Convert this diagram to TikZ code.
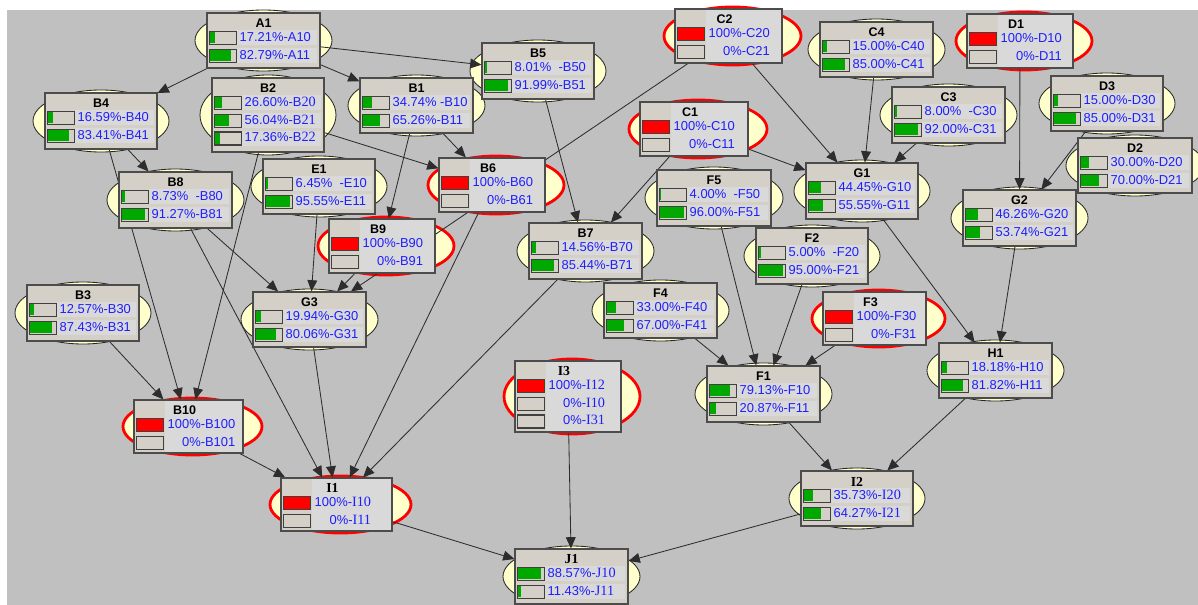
\documentclass[tikz,border=0pt]{standalone}
\usepackage{fontspec}
\setmainfont{Liberation Sans}
\newfontfamily\serifpart[Scale=1.1]{Liberation Serif}
\usetikzlibrary{arrows.meta,fit,calc}

\definecolor{paper}{RGB}{192,192,192}
\definecolor{boxgray}{RGB}{212,208,200}
\definecolor{txtgray}{RGB}{217,217,217}
\definecolor{eggyellow}{RGB}{255,255,204}
\definecolor{evidred}{RGB}{255,0,0}
\definecolor{bargreen}{RGB}{0,168,0}
\definecolor{valblue}{RGB}{30,30,255}
\definecolor{linkgray}{RGB}{45,45,45}

\pgfdeclarelayer{paperlayer}
\pgfdeclarelayer{eggs}
\pgfdeclarelayer{links}
\pgfsetlayers{paperlayer,eggs,links,main}

\newcommand{\sr}[1]{{\serifpart #1}}

% node box with its egg behind it (box corners in px)
\newcommand{\bnnode}[6]{%
  \node[bnbox, fit={(#2,#3) (#4,#5)}] (#1) {};
  \pgfmathsetmacro\eggx{(#4-#2)/2+12}
  \pgfmathsetmacro\eggy{(#5-#3)/2+3}
  \begin{pgfonlayer}{eggs}
    \path[bnegg] (#1.center) ellipse [x radius=\eggx, y radius=\eggy];
  \end{pgfonlayer}
  \node[bntitle] at ($(#1.north)+(0,11)$) {#6};
}
% evidence node: red egg, light text column
\newcommand{\bnevnode}[6]{%
  \node[bnbox, fit={(#2,#3) (#4,#5)}] (#1) {};
  \pgfmathsetmacro\eggx{(#4-#2)/2+15}
  \pgfmathsetmacro\eggy{(#5-#3)/2+2}
  \begin{pgfonlayer}{eggs}
    \path[bnredegg] ($(#1.center)+(4,0)$) ellipse [x radius=\eggx, y radius=\eggy];
  \end{pgfonlayer}
  \fill[txtgray] ($(#1.north west)+(32,1.5)$) rectangle ($(#1.south east)+(-1.5,-1.5)$);
  \node[bntitle] at ($(#1.north)+(-4,11)$) {#6};
}
% one state row: node, row, share, label
\newcommand{\bnrow}[4]{%
  \pgfmathsetmacro\rowy{25.5+(#2-1)*17.8}
  \fill[txtgray] ($(#1.north west)+(31,\rowy-7.5)$) rectangle ($(#1.north east)+(-4,\rowy+7.5)$);
  \draw[bnbar] ($(#1.north west)+(3,\rowy-6.5)$) rectangle ++(27,13);
  \fill[bargreen] ($(#1.north west)+(4,\rowy-5.5)$) rectangle ++(#3*25,11);
  \node[bnval, anchor=west] at ($(#1.north west)+(33,\rowy)$) {#4};
}
% evidence rows
\newcommand{\bnhit}[2]{%
  \draw[bnbar, fill=evidred] ($(#1.north west)+(3,19)$) rectangle ++(27,13);
  \node[bnval, anchor=west] (#1v) at ($(#1.north west)+(34,25.5)$) {#2};
}
\newcommand{\bnmiss}[3]{%
  \pgfmathsetmacro\rowy{25.5+(#2-1)*17.8}
  \draw[bnbar] ($(#1.north west)+(3,\rowy-6.5)$) rectangle ++(27,13);
  \node[bnval, anchor=east] at ($(#1v.east)+(0,\rowy-25.5)$) {#3};
}

\begin{document}
\begin{tikzpicture}[x=0.025cm, y=-0.025cm]
\tikzset{
  bnbox/.style={rectangle, draw=black!70, fill=boxgray, line width=0.8pt, inner sep=0pt},
  bnegg/.style={draw=black!85, fill=eggyellow, line width=0.6pt},
  bnredegg/.style={draw=evidred, fill=eggyellow, line width=2pt},
  bnbar/.style={draw=black!75, fill=boxgray, line width=0.8pt},
  bntitle/.style={font=\bfseries\fontsize{8.9}{10}\selectfont, inner sep=0pt},
  bnval/.style={text=valblue, font=\fontsize{9.2}{11}\selectfont, inner sep=0pt,
    text height=6.6pt, text depth=1.8pt},
  link/.style={draw=linkgray, line width=0.6pt, -{Triangle[length=8pt,width=7pt]}}
}
\useasboundingbox (0,0) rectangle (1198,605);
\begin{pgfonlayer}{paperlayer}
  \fill[white] (0,0) rectangle (1198,605);
  \fill[paper] (7,10) rectangle (1198,605);
\end{pgfonlayer}

% nodes
\bnnode{A1}{207}{13}{320}{68}{A1}
\bnrow{A1}{1}{.1721}{17.21\%-A10}
\bnrow{A1}{2}{.8279}{82.79\%-A11}

\bnnode{B4}{45}{93}{157}{149}{B4}
\bnrow{B4}{1}{.1659}{16.59\%-B40}
\bnrow{B4}{2}{.8341}{83.41\%-B41}

\bnnode{B2}{212}{78}{324}{152}{B2}
\bnrow{B2}{1}{.2660}{26.60\%-B\sr{20}}
\bnrow{B2}{2}{.5604}{56.04\%-B\sr{21}}
\bnrow{B2}{3}{.1736}{17.36\%-B\sr{22}}

\bnnode{B5}{482}{43}{594}{99}{B5}
\bnrow{B5}{1}{.0801}{8.01\%\ \ -B50}
\bnrow{B5}{2}{.9199}{91.99\%-B51}

\bnnode{B1}{360}{78}{473}{133}{B1}
\bnrow{B1}{1}{.3474}{34.74\% -B10}
\bnrow{B1}{2}{.6526}{65.26\%-B11}

\bnnode{B8}{119}{172}{232}{228}{B8}
\bnrow{B8}{1}{.0873}{8.73\%\ \ -B80}
\bnrow{B8}{2}{.9127}{91.27\%-B81}

\bnnode{E1}{263}{159}{375}{214}{E1}
\bnrow{E1}{1}{.0645}{6.45\%\ \ -E10}
\bnrow{E1}{2}{.9555}{95.55\%-E11}

\bnnode{G3}{253}{292}{366}{347}{G3}
\bnrow{G3}{1}{.1994}{19.94\%-G30}
\bnrow{G3}{2}{.8006}{80.06\%-G31}

\bnnode{B3}{27}{285}{139}{341}{B3}
\bnrow{B3}{1}{.1257}{12.57\%-B30}
\bnrow{B3}{2}{.8743}{87.43\%-B31}

\bnnode{B7}{529}{223}{642}{279}{B7}
\bnrow{B7}{1}{.1456}{14.56\%-B70}
\bnrow{B7}{2}{.8544}{85.44\%-B71}

\bnnode{F4}{604}{283}{717}{338}{F4}
\bnrow{F4}{1}{.33}{33.00\%-F40}
\bnrow{F4}{2}{.67}{67.00\%-F41}

\bnnode{F1}{707}{366}{820}{422}{F1}
\bnrow{F1}{1}{.7913}{79.13\%-F10}
\bnrow{F1}{2}{.2087}{20.87\%-F11}

\bnnode{J1}{515}{549}{628}{604}{\sr{J1}}
\bnrow{J1}{1}{.8857}{88.57\%-\sr{J10}}
\bnrow{J1}{2}{.1143}{11.43\%-\sr{J11}}

\bnnode{I2}{801}{471}{913}{526}{\sr{I2}}
\bnrow{I2}{1}{.3573}{35.73\%-\sr{I20}}
\bnrow{I2}{2}{.6427}{64.27\%-\sr{I21}}

\bnnode{H1}{939}{343}{1052}{398}{H1}
\bnrow{H1}{1}{.1818}{18.18\%-H10}
\bnrow{H1}{2}{.8182}{81.82\%-H11}

\bnnode{F2}{756}{228}{868}{284}{F2}
\bnrow{F2}{1}{.05}{5.00\%\ \ -F20}
\bnrow{F2}{2}{.95}{95.00\%-F21}

\bnnode{F5}{657}{170}{771}{226}{F5}
\bnrow{F5}{1}{.04}{4.00\%\ \ -F50}
\bnrow{F5}{2}{.96}{96.00\%-F51}

\bnnode{G1}{806}{163}{918}{219}{G1}
\bnrow{G1}{1}{.4445}{44.45\%-G10}
\bnrow{G1}{2}{.5555}{55.55\%-G11}

\bnnode{C3}{892}{87}{1005}{143}{C3}
\bnrow{C3}{1}{.08}{8.00\%\ \ -C30}
\bnrow{C3}{2}{.92}{92.00\%-C31}

\bnnode{C4}{820}{22}{933}{77}{C4}
\bnrow{C4}{1}{.15}{15.00\%-C40}
\bnrow{C4}{2}{.85}{85.00\%-C41}

\bnnode{D3}{1051}{76}{1163}{131}{D3}
\bnrow{D3}{1}{.15}{15.00\%-D30}
\bnrow{D3}{2}{.85}{85.00\%-D31}

\bnnode{D2}{1078}{138}{1192}{193}{D2}
\bnrow{D2}{1}{.30}{30.00\%-D20}
\bnrow{D2}{2}{.70}{70.00\%-D21}

\bnnode{G2}{963}{190}{1076}{246}{G2}
\bnrow{G2}{1}{.4626}{46.26\%-G20}
\bnrow{G2}{2}{.5374}{53.74\%-G21}

% evidence nodes
\bnevnode{C2}{675}{9}{782}{63}{C2}
\bnhit{C2}{100\%-C20}
\bnmiss{C2}{2}{0\%-C21}

\bnevnode{C1}{640}{102}{748}{156}{C1}
\bnhit{C1}{100\%-C10}
\bnmiss{C1}{2}{0\%-C11}

\bnevnode{B6}{439}{158}{545}{212}{B6}
\bnhit{B6}{100\%-B60}
\bnmiss{B6}{2}{0\%-B61}

\bnevnode{B9}{329}{219}{435}{273}{B9}
\bnhit{B9}{100\%-B90}
\bnmiss{B9}{2}{0\%-B91}

\bnevnode{D1}{967}{14}{1073}{68}{D1}
\bnhit{D1}{100\%-D10}
\bnmiss{D1}{2}{0\%-D11}

\bnevnode{F3}{823}{292}{926}{345}{F3}
\bnhit{F3}{100\%-F30}
\bnmiss{F3}{2}{0\%-F31}

\bnevnode{B10}{134}{400}{243}{453}{B10}
\bnhit{B10}{100\%-B100}
\bnmiss{B10}{2}{0\%-B101}

\bnevnode{I1}{281}{478}{392}{531}{\sr{I1}}
\bnhit{I1}{100\%-\sr{I10}}
\bnmiss{I1}{2}{0\%-\sr{I11}}

\bnevnode{I3}{515}{361}{621}{432}{\sr{I3}}
\bnhit{I3}{100\%-\sr{I12}}
\bnmiss{I3}{2}{0\%-\sr{I10}}
\bnmiss{I3}{3}{0\%-\sr{I31}}

% links
\begin{pgfonlayer}{links}
  \draw[link] (A1) -- (B4);
  \draw[link] (A1) -- (B5);
  \draw[link] (A1) -- (B1);
  \draw[link] (B4) -- (B8);
  \draw[link] (B4) -- (B10);
  \draw[link] (B2) -- (B6);
  \draw[link] (B2) -- (B10);
  \draw[link] (B1) -- (B6);
  \draw[link] (B1) -- (B9);
  \draw[link] (B3) -- (B10);
  \draw[link] (B8) -- (G3);
  \draw[link] (B8) -- (I1);
  \draw[link] (E1) -- (G3);
  \draw[link] (B9) -- (G3);
  \draw[link] (C2) -- (G3);
  \draw[link] (G3) -- (I1);
  \draw[link] (B6) -- (I1);
  \draw[link] (B7) -- (I1);
  \draw[link] (B10) -- (I1);
  \draw[link] (B5) -- (B7);
  \draw[link] (C1) -- (B7);
  \draw[link] (C2) -- (G1);
  \draw[link] (C4) -- (G1);
  \draw[link] (C3) -- (G1);
  \draw[link] (C1) -- (G1);
  \draw[link] (G1) -- (H1);
  \draw[link] (G2) -- (H1);
  \draw[link] (D1) -- (G2);
  \draw[link] (D3) -- (G2);
  \draw[link] (D2) -- (G2);
  \draw[link] (F5) -- (F1);
  \draw[link] (F2) -- (F1);
  \draw[link] (F4) -- (F1);
  \draw[link] (F3) -- (F1);
  \draw[link] (F1) -- (I2);
  \draw[link] (H1) -- (I2);
  \draw[link] (I2) -- (J1);
  \draw[link] (I3) -- (J1);
  \draw[link] (I1) -- (J1);
\end{pgfonlayer}
\end{tikzpicture}
\end{document}
